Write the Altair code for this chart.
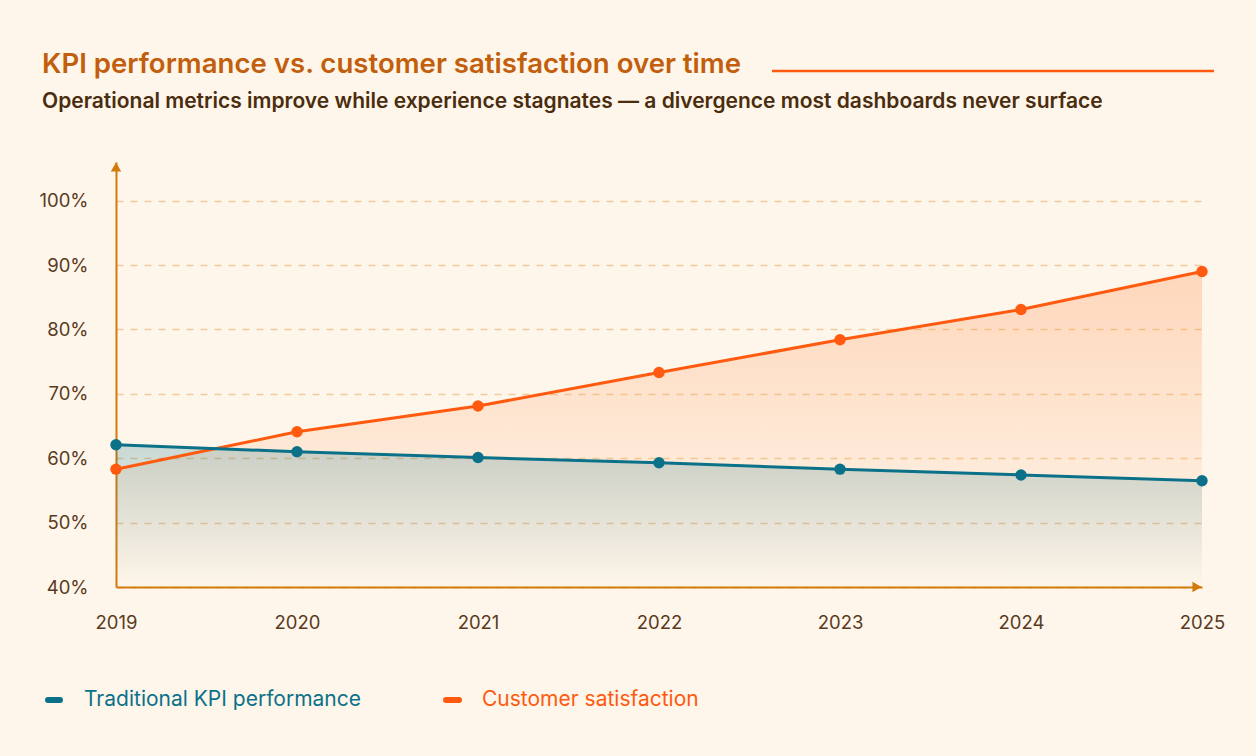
import altair as alt
import pandas as pd

years = [2019, 2020, 2021, 2022, 2023, 2024, 2025]
kpi = [62.1, 61.0, 60.1, 59.3, 58.3, 57.4, 56.5]
csat = [58.3, 64.1, 68.1, 73.3, 78.4, 83.1, 89.0]
series_names = ["Traditional KPI performance", "Customer satisfaction"]
y_ticks = [40, 50, 60, 70, 80, 90, 100]

TEAL = "#0B7189"
ORANGE = "#FF5A0F"
AXIS = "#D27A0B"
BG = "#FEF6EA"
LABEL = "#5A3A1E"
FONT = "Inter"

df_k = pd.DataFrame({"year": years, "value": kpi})
df_c = pd.DataFrame({"year": years, "value": csat})

W, H = 1086, 425
xs = alt.Scale(domain=[2019, 2025], nice=False, zero=False)
ys = alt.Scale(domain=[40, 106], nice=False, zero=False)

X = alt.X("year:Q", scale=xs,
          axis=alt.Axis(values=years, format="d", grid=False, ticks=False,
                        labelPadding=26, labelFontSize=18.5, labelColor=LABEL,
                        labelFont=FONT, domainColor=AXIS, domainWidth=2,
                        labelFlush=False, title=None))
Y = alt.Y("value:Q", scale=ys,
          axis=alt.Axis(values=y_ticks, labelExpr="datum.value + '%'",
                        grid=True, gridDash=[7, 7], gridColor="#F0CC9C",
                        gridWidth=1.5, ticks=False, labelPadding=28,
                        labelFontSize=18.5, labelColor=LABEL, labelFont=FONT,
                        domainColor=AXIS, domainWidth=2, title=None))

def grad(c_top, c_bot):
    return alt.Gradient(gradient="linear", x1=0, x2=0, y1=0, y2=1,
                        stops=[alt.GradientStop(color=c_top, offset=0),
                               alt.GradientStop(color=c_bot, offset=1)])

area_c = alt.Chart(df_c).mark_area(
    color=grad("rgba(255,150,90,0.32)", "rgba(255,150,90,0.0)")
).encode(x=X, y=Y, y2=alt.datum(40))
area_k = alt.Chart(df_k).mark_area(
    color=grad("rgba(11,113,137,0.22)", "rgba(11,113,137,0.0)")
).encode(x=X, y=Y, y2=alt.datum(40))

line_c = alt.Chart(df_c).mark_line(color=ORANGE, strokeWidth=3).encode(x=X, y=Y)
line_k = alt.Chart(df_k).mark_line(color=TEAL, strokeWidth=3).encode(x=X, y=Y)
pts_c = alt.Chart(df_c).mark_circle(color=ORANGE, size=130, opacity=1).encode(x=X, y=Y)
pts_k = alt.Chart(df_k).mark_circle(color=TEAL, size=130, opacity=1).encode(x=X, y=Y)

one = pd.DataFrame({"a": [0]})
arrow_up = alt.Chart(one).mark_point(shape="triangle-up", filled=True, color=AXIS,
                                     size=110, opacity=1).encode(
    x=alt.value(0), y=alt.value(5))
arrow_right = alt.Chart(one).mark_point(shape="triangle-right", filled=True, color=AXIS,
                                        size=110, opacity=1).encode(
    x=alt.value(W - 5), y=alt.value(H))

title = alt.Chart(one).mark_text(
    text="KPI performance vs. customer satisfaction over time",
    font=FONT, fontSize=27.6, fontWeight=600, color="#C25E0C",
    align="left", baseline="alphabetic").encode(x=alt.value(-74), y=alt.value(-89))
title_rule = alt.Chart(one).mark_rule(color=ORANGE, strokeWidth=2.5).encode(
    x=alt.value(656), x2=alt.value(1098), y=alt.value(-91))
subtitle = alt.Chart(one).mark_text(
    text="Operational metrics improve while experience stagnates \u2014 a divergence most dashboards never surface",
    font=FONT, fontSize=21, fontWeight=600, color="#4A2C0E",
    align="left", baseline="alphabetic").encode(x=alt.value(-74), y=alt.value(-54))

leg_k_rule = alt.Chart(one).mark_rule(color=TEAL, strokeWidth=6, strokeCap="round").encode(
    x=alt.value(-68), x2=alt.value(-56), y=alt.value(538))
leg_k_text = alt.Chart(one).mark_text(
    text=series_names[0], font=FONT, fontSize=21, color=TEAL,
    align="left", baseline="middle").encode(x=alt.value(-32), y=alt.value(538))
leg_c_rule = alt.Chart(one).mark_rule(color=ORANGE, strokeWidth=6, strokeCap="round").encode(
    x=alt.value(330), x2=alt.value(343), y=alt.value(538))
leg_c_text = alt.Chart(one).mark_text(
    text=series_names[1], font=FONT, fontSize=21, color=ORANGE,
    align="left", baseline="middle").encode(x=alt.value(366), y=alt.value(538))

chart = alt.layer(
    area_c, area_k, line_c, line_k, pts_c, pts_k, arrow_up, arrow_right,
    title, title_rule, subtitle, leg_k_rule, leg_k_text, leg_c_rule, leg_c_text
).properties(
    width=W, height=H,
    autosize=alt.AutoSizeParams(type="none"),
    padding={"left": 116, "top": 162, "right": 54, "bottom": 169},
    background=BG,
).configure_view(strokeWidth=0)

chart.save("out.html", embed_options={"renderer": "svg", "actions": False})
